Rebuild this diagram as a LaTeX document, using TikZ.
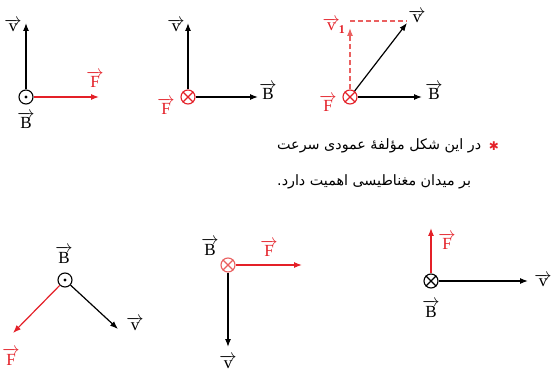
\documentclass[tikz,border=0pt]{standalone}
\usepackage{fontspec}
\usetikzlibrary{arrows.meta}
\TeXXeTstate=1
\setmainfont{Liberation Serif}
\newfontfamily\arabicfont[Script=Arabic]{DejaVu Sans}
\newfontfamily\symfont{DejaVu Sans}
\definecolor{myred}{RGB}{228,32,40}
\definecolor{dashred}{RGB}{234,96,96}
\newcommand{\vl}[1]{$\overrightarrow{\hbox{#1}}$}
\begin{document}
\begin{tikzpicture}[x=1pt,y=-1pt,
  vec/.style={line width=1.2pt,-{Latex[length=8pt,width=6pt]}},
  ring/.style={circle,draw,line width=1.1pt,minimum size=14pt,inner sep=0pt,fill=white},
  lbl/.style={anchor=base,inner sep=0pt,font=\fontsize{17}{20}\selectfont},
  fa/.style={anchor=base west,inner sep=0pt,font=\arabicfont\fontsize{14.3}{17}\selectfont},
]
\useasboundingbox[fill=white] (0,0) rectangle (551,371);

% ---------- panel 1 ----------
\node[ring] (c1) at (26,97) {};
\fill (c1) circle (1.6pt);
\coordinate (v1) at (26,23);
\coordinate (f1) at (99,97);
\draw[vec] (c1) -- (v1);
\draw[vec,myred] (c1) -- (f1);
\node[lbl] (lv1) at (13,32) {\vl{v}};
\node[lbl] (lb1) at (26,129) {\vl{B}};
\node[lbl,text=myred] (lf1) at (95,88) {\vl{F}};

% ---------- panel 2 ----------
\node[ring,draw=myred] (c2) at (188,97) {};
\draw[myred,line width=1.1pt] (c2.45) -- (c2.225) (c2.135) -- (c2.-45);
\coordinate (v2) at (188,23);
\coordinate (b2) at (258,97);
\draw[vec] (c2) -- (v2);
\draw[vec] (c2) -- (b2);
\node[lbl] (lv2) at (176,32) {\vl{v}};
\node[lbl] (lb2) at (268,100) {\vl{B}};
\node[lbl,text=myred] (lf2) at (166,115) {\vl{F}};

% ---------- panel 3 ----------
\node[ring,draw=myred] (c3) at (350,97) {};
\draw[myred,line width=1.1pt] (c3.45) -- (c3.225) (c3.135) -- (c3.-45);
\coordinate (v3) at (407,23);
\coordinate (b3) at (422,97);
\coordinate (vp3) at (350,28);
\coordinate (k3) at (350,21);
\coordinate (h3) at (407,21);
\draw[vec] (c3) -- (v3);
\draw[vec] (c3) -- (b3);
\draw[vec,dashred,dash pattern=on 5pt off 3pt] (c3) -- (vp3);
\draw[dashred,line width=1.1pt,dash pattern=on 5pt off 3pt] (k3) -- (h3);
\node[lbl] (lv3) at (417,23) {\vl{v}};
\node[lbl] (lb3) at (434,100) {\vl{B}};
\node[lbl,text=myred] (lf3) at (328,112) {\vl{F}};
\node[lbl,text=myred] (lv13) at (334,31) {\vl{v}\kern-1pt$_{\mathbf{1}}$};

% ---------- text ----------
\node[anchor=base,inner sep=0pt,text=myred,font=\symfont\fontsize{12}{14}\selectfont] (ast) at (494,151) {✱};
\node[fa] (t1) at (277,150) {\beginR در این شکل مؤلفهٔ عمودی سرعت\endR};
\node[fa] (t2) at (277,186) {\beginR بر میدان مغناطیسی اهمیت دارد.\endR};

% ---------- panel 4 ----------
\node[ring] (c4) at (65,280) {};
\fill (c4) circle (1.6pt);
\coordinate (f4) at (13,333);
\coordinate (v4) at (118,329);
\draw[vec,myred] (c4) -- (f4);
\draw[vec] (c4) -- (v4);
\node[lbl] (lb4) at (64,263) {\vl{B}};
\node[lbl] (lv4) at (135,330) {\vl{v}};
\node[lbl,text=myred] (lf4) at (11,365) {\vl{F}};

% ---------- panel 5 ----------
\node[ring,draw=dashred] (c5) at (228,265) {};
\draw[dashred,line width=1.1pt] (c5.45) -- (c5.225) (c5.135) -- (c5.-45);
\coordinate (f5) at (302,265);
\coordinate (v5) at (228,347);
\draw[vec,myred] (c5) -- (f5);
\draw[vec] (c5) -- (v5);
\node[lbl] (lb5) at (210,255) {\vl{B}};
\node[lbl,text=myred] (lf5) at (269,257) {\vl{F}};
\node[lbl] (lv5) at (228,368) {\vl{v}};

% ---------- panel 6 ----------
\node[ring] (c6) at (431,281) {};
\draw[line width=1.1pt] (c6.45) -- (c6.225) (c6.135) -- (c6.-45);
\coordinate (f6) at (431,228);
\coordinate (v6) at (528,281);
\draw[vec,myred] (c6) -- (f6);
\draw[vec] (c6) -- (v6);
\node[lbl,text=myred] (lf6) at (447,250) {\vl{F}};
\node[lbl] (lv6) at (543,287) {\vl{v}};
\node[lbl] (lb6) at (431,317) {\vl{B}};
\end{tikzpicture}
\end{document}
